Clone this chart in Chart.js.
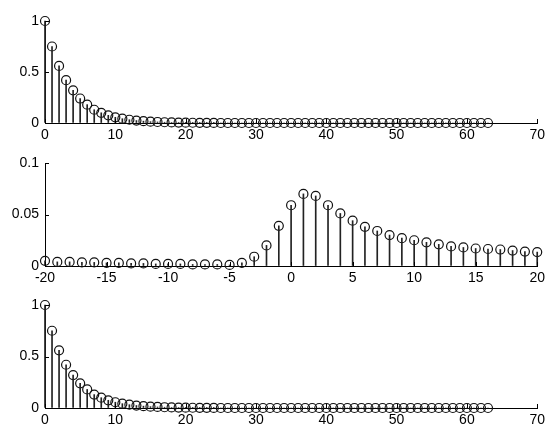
<!DOCTYPE html>
<html>
<head>
<meta charset="utf-8">
<script src="https://cdn.jsdelivr.net/npm/chart.js@4.4.0/dist/chart.umd.min.js"></script>
<style>
  body { margin: 0; background: #fff; }
  .panel { position: absolute; left: 0; width: 549px; }
</style>
</head>
<body>
<div class="panel" style="top:0;height:142px"><canvas id="topChart"></canvas></div>
<div class="panel" style="top:142px;height:143px"><canvas id="midChart"></canvas></div>
<div class="panel" style="top:284px;height:143px"><canvas id="bottomChart"></canvas></div>
<script>
// índices e valores
const topN = [0, 1, 2, 3, 4, 5, 6, 7, 8, 9, 10, 11, 12, 13, 14, 15, 16, 17, 18, 19,
  20, 21, 22, 23, 24, 25, 26, 27, 28, 29, 30, 31, 32, 33, 34, 35, 36, 37, 38, 39,
  40, 41, 42, 43, 44, 45, 46, 47, 48, 49, 50, 51, 52, 53, 54, 55, 56, 57, 58, 59,
  60, 61, 62, 63];
const topValues = [1, 0.75, 0.56, 0.42, 0.32, 0.24, 0.18, 0.13, 0.10, 0.075,
  0.056, 0.042, 0.032, 0.024, 0.018, 0.013, 0.010, 0.0075, 0.0056, 0.0042,
  0.0032, 0.0024, 0.0018, 0.0013, 0.001, 0, 0, 0, 0, 0, 0, 0, 0, 0, 0, 0, 0, 0, 0, 0,
  0, 0, 0, 0, 0, 0, 0, 0, 0, 0, 0, 0, 0, 0, 0, 0, 0, 0, 0, 0, 0, 0, 0, 0];

const midN = [-20, -19, -18, -17, -16, -15, -14, -13, -12, -11, -10, -9, -8, -7, -6,
  -5, -4, -3, -2, -1, 0, 1, 2, 3, 4, 5, 6, 7, 8, 9, 10, 11, 12, 13, 14, 15, 16, 17,
  18, 19, 20];
const midValues = [0.005, 0.004, 0.004, 0.0035, 0.0035, 0.003, 0.003, 0.0025, 0.0025,
  0.002, 0.002, 0.002, 0.0015, 0.0015, 0.0015, 0.001, 0.003, 0.009, 0.020, 0.039,
  0.059, 0.070, 0.068, 0.059, 0.051, 0.044, 0.038, 0.034, 0.030, 0.027, 0.025,
  0.023, 0.021, 0.019, 0.018, 0.017, 0.0165, 0.016, 0.015, 0.014, 0.0135];

const bottomN = topN;
const bottomValues = [1, 0.75, 0.56, 0.42, 0.32, 0.24, 0.18, 0.13, 0.10, 0.075,
  0.056, 0.042, 0.032, 0.024, 0.018, 0.013, 0.010, 0.0075, 0.0056, 0.0042,
  0.0032, 0.0024, 0.0018, 0.0013, 0.001, 0, 0, 0, 0, 0, 0, 0, 0, 0, 0, 0, 0, 0, 0, 0,
  0, 0, 0, 0, 0, 0, 0, 0, 0, 0, 0, 0, 0, 0, 0, 0, 0, 0, 0, 0, 0, 0, 0, 0];

const topXTicks = [0, 70, 10];
const midXTicks = [-20, 20, 5];
const topYTicks = [0, 1, 0.5];
const midYTicks = [0, 0.1, 0.05];

const fonte = { family: "'Liberation Sans', Arial, sans-serif", size: 14 };

// rótulos sem zeros à direita (1 e 0.1, não 1.0 e 0.10)
const rotulo = v => String(+Number(v).toFixed(4));

// marcas de escala para dentro, como no MATLAB
const ticksParaDentro = {
  id: "ticksParaDentro",
  afterDraw(chart) {
    const ctx = chart.ctx;
    const area = chart.chartArea;
    const sx = chart.scales.x, sy = chart.scales.y;
    ctx.save();
    ctx.strokeStyle = "#000";
    ctx.lineWidth = 1;
    ctx.beginPath();
    sx.ticks.forEach(t => {
      const px = Math.round(sx.getPixelForValue(t.value)) + 0.5;
      ctx.moveTo(px, area.bottom);
      ctx.lineTo(px, area.bottom - 4);
    });
    sy.ticks.forEach(t => {
      const py = Math.round(sy.getPixelForValue(t.value)) + 0.5;
      ctx.moveTo(area.left, py);
      ctx.lineTo(area.left + 4, py);
    });
    ctx.stroke();
    ctx.restore();
  }
};

function criaStem(id, xs, ys, xt, yt, padRight) {
  const pontos = xs.map((x, i) => ({ x: x, y: ys[i] }));
  return new Chart(document.getElementById(id), {
    type: "scatter",
    data: {
      datasets: [
        {
          type: "bar",
          data: pontos,
          backgroundColor: "#222",
          borderWidth: 0,
          barThickness: 1,
          clip: false,
        },
        {
          type: "scatter",
          data: pontos,
          pointStyle: "circle",
          pointRadius: 4.5,
          pointBorderWidth: 1.2,
          pointBorderColor: "#111",
          pointBackgroundColor: "rgba(0,0,0,0)",
          clip: false,
        },
      ],
    },
    options: {
      responsive: true,
      maintainAspectRatio: false,
      animation: false,
      layout: { padding: { left: 0, right: padRight, top: 21, bottom: 0 } },
      plugins: { legend: { display: false }, tooltip: { enabled: false } },
      scales: {
        x: {
          type: "linear",
          offset: false,
          min: xt[0], max: xt[1],
          ticks: { stepSize: xt[2], color: "#000", font: fonte, padding: 4, maxRotation: 0, autoSkip: false, callback: rotulo },
          grid: { drawOnChartArea: false, drawTicks: false },
          border: { color: "#000", width: 1 },
          afterFit(s) { s.height = 19; },
        },
        y: {
          min: yt[0], max: yt[1],
          ticks: { stepSize: yt[2], color: "#000", font: fonte, padding: 6, callback: rotulo },
          grid: { drawOnChartArea: false, drawTicks: false },
          border: { color: "#000", width: 1 },
          afterFit(s) { s.width = 45; },
        },
      },
    },
    plugins: [ticksParaDentro],
  });
}

criaStem("topChart", topN, topValues, topXTicks, topYTicks, 8);
criaStem("midChart", midN, midValues, midXTicks, midYTicks, 9);
criaStem("bottomChart", bottomN, bottomValues, topXTicks, topYTicks, 8);
</script>
</body>
</html>
